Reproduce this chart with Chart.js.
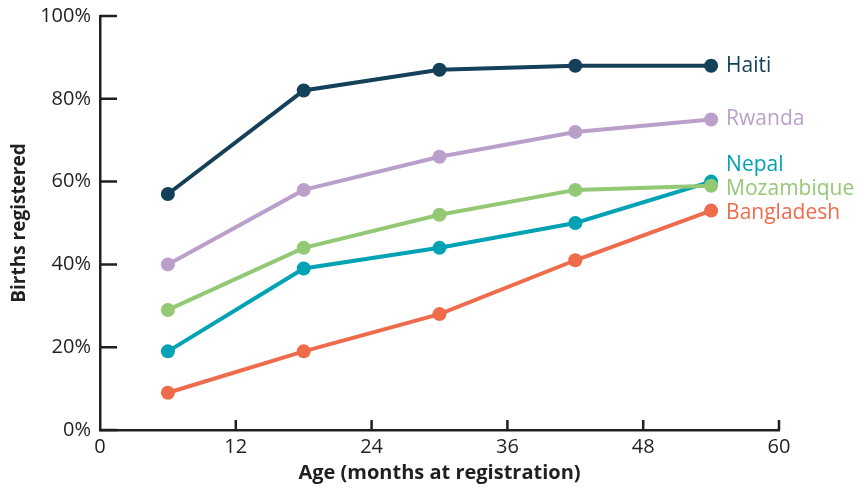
<!DOCTYPE html>
<html>
<head>
<meta charset="utf-8">
<script src="https://cdn.jsdelivr.net/npm/chart.js@4.4.0/dist/chart.umd.min.js"></script>
<style>
  html, body { margin: 0; padding: 0; background: #fff; }
  #wrap { width: 861px; height: 493px; position: relative; }
</style>
</head>
<body>
<div id="wrap"><canvas id="chart"></canvas></div>
<script>
// age in months at registration
const ages = [6, 18, 30, 42, 54];

// share of births registered (%)
const haiti      = [57, 82, 87, 88, 88];
const rwanda     = [40, 58, 66, 72, 75];
const mozambique = [29, 44, 52, 58, 59];
const nepal      = [19, 39, 44, 50, 60];
const bangladesh = [9, 19, 28, 41, 53];

const xTicks = [0, 12, 24, 36, 48, 60];
const yTicks = [0, 20, 40, 60, 80, 100];

const axisColor = '#231f20';
const font = "'Open Sans', 'Noto Sans', sans-serif";

function series(label, values, color, dy) {
    return {
        label: label,
        data: ages.map((a, i) => ({ x: a, y: values[i] })),
        borderColor: color,
        backgroundColor: color,
        pointBackgroundColor: color,
        borderWidth: 4,
        pointRadius: 7,
        pointHoverRadius: 7,
        pointBorderWidth: 0,
        tension: 0,
        labelDy: dy
    };
}

// draws the tick marks inside the plot area and the country names at line ends
const decorations = {
    id: 'decorations',
    afterDatasetsDraw(chart) {
        const ctx = chart.ctx;
        const xs = chart.scales.x, ys = chart.scales.y;
        ctx.save();
        ctx.strokeStyle = axisColor;
        ctx.lineWidth = 2.5;
        ctx.beginPath();
        xTicks.forEach(t => {
            if (t === 0) return;
            const px = xs.getPixelForValue(t);
            ctx.moveTo(px, ys.bottom);
            ctx.lineTo(px, ys.bottom - 10);
        });
        yTicks.forEach(t => {
            const py = ys.getPixelForValue(t);
            ctx.moveTo(xs.left, py);
            ctx.lineTo(xs.left + 17, py);
        });
        ctx.stroke();

        ctx.font = '21px ' + font;
        ctx.textBaseline = 'middle';
        ctx.textAlign = 'left';
        chart.data.datasets.forEach((ds, i) => {
            const meta = chart.getDatasetMeta(i);
            const last = meta.data[meta.data.length - 1];
            ctx.fillStyle = ds.borderColor;
            ctx.fillText(ds.label, last.x + 15, last.y + ds.labelDy);
        });
        ctx.restore();
    }
};

new Chart(document.getElementById('chart'), {
    type: 'line',
    data: {
        datasets: [
            series('Haiti', haiti, '#15405a', 0),
            series('Rwanda', rwanda, '#bb9fcb', 0),
            series('Mozambique', mozambique, '#93c974', 3),
            series('Nepal', nepal, '#00a2b3', -17),
            series('Bangladesh', bangladesh, '#ee6c4b', 2)
        ]
    },
    options: {
        responsive: true,
        maintainAspectRatio: false,
        animation: false,
        layout: { padding: { top: 16, right: 82, bottom: 8, left: 8 } },
        plugins: {
            legend: { display: false },
            tooltip: { enabled: false }
        },
        scales: {
            x: {
                type: 'linear',
                min: 0,
                max: 60,
                afterBuildTicks: s => { s.ticks = xTicks.map(v => ({ value: v })); },
                grid: { display: false, drawTicks: false },
                border: { display: true, color: axisColor, width: 2.5 },
                ticks: { color: axisColor, font: { family: font, size: 20 }, padding: 5, maxRotation: 0 },
                title: {
                    display: true,
                    text: 'Age (months at registration)',
                    color: axisColor,
                    font: { family: font, size: 20, weight: 'bold' },
                    padding: { top: 6, bottom: 0 }
                },
                afterFit: s => { s.height = 55; s.paddingLeft = 0; s.paddingRight = 0; }
            },
            y: {
                min: 0,
                max: 100,
                afterBuildTicks: s => { s.ticks = yTicks.map(v => ({ value: v })); },
                grid: { display: false, drawTicks: false },
                border: { display: true, color: axisColor, width: 2.5 },
                ticks: {
                    color: axisColor,
                    font: { family: font, size: 20 },
                    padding: 9,
                    callback: v => v + '%'
                },
                title: {
                    display: true,
                    text: 'Births registered',
                    color: axisColor,
                    font: { family: font, size: 19, weight: 'bold' },
                    padding: { top: 0, bottom: 4 }
                },
                afterFit: s => { s.width = 92; s.paddingTop = 0; s.paddingBottom = 0; }
            }
        }
    },
    plugins: [decorations]
});
</script>
</body>
</html>
